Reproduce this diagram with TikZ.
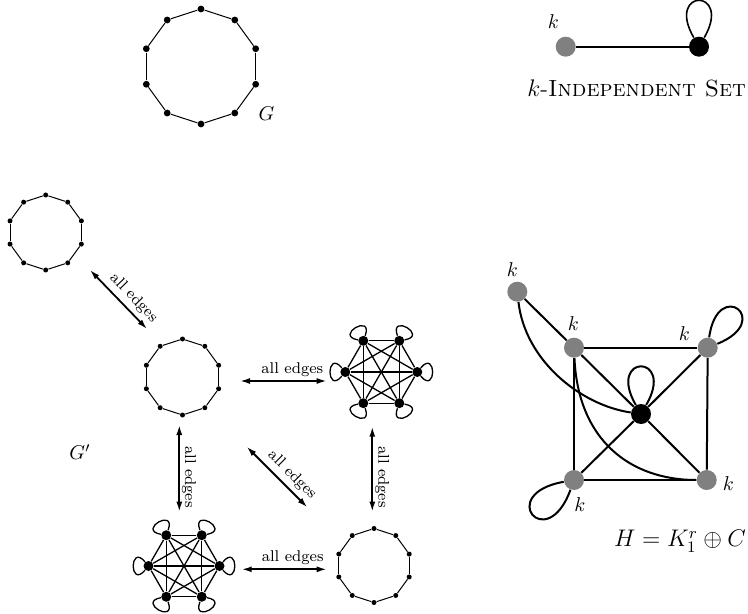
\documentclass[tikz,border=0pt]{standalone}
\usetikzlibrary{arrows.meta,calc}
\newcommand\drawcycle[5]{% name, cx, cy, radius, dot style
  \foreach \i in {0,...,9}{\node[#5] (#1\i) at ({#2+#4*cos(-90+36*\i)},{#3+#4*sin(-90+36*\i)}) {};}
  \foreach \i in {0,...,9}{\pgfmathtruncatemacro\nxt{mod(\i+1,10)}\draw[cedge] (#1\i) -- (#1\nxt);}
}
\newcommand\drawksix[4]{% name, cx, cy, radius
  \foreach \i in {0,...,5}{\node[dotK] (#1\i) at ({#2+#4*cos(60*\i)},{#3+#4*sin(60*\i)}) {};}
  \foreach \i in {0,...,4}{\pgfmathtruncatemacro\s{\i+1}\foreach \j in {\s,...,5}{\draw[kedge] (#1\i) -- (#1\j);}}
  \foreach \i in {0,...,5}{\draw[kedge] (#1\i) .. controls +({60*\i+50}:30) and +({60*\i-50}:30) .. (#1\i);}
}
\begin{document}
\begin{tikzpicture}[x=0.5pt,y=-0.5pt,
  dotG/.style={circle,fill=black,inner sep=0pt,minimum size=3.4pt},
  dotS/.style={circle,fill=black,inner sep=0pt,minimum size=2.5pt},
  dotK/.style={circle,fill=black,inner sep=0pt,minimum size=5pt},
  hgray/.style={circle,fill=gray,inner sep=0pt,minimum size=10pt},
  hblack/.style={circle,fill=black,inner sep=0pt,minimum size=10pt},
  cedge/.style={line width=0.5pt},
  kedge/.style={line width=0.65pt},
  hedge/.style={line width=1pt},
  biarrow/.style={line width=0.9pt,{Latex[length=5pt,width=3pt]}-{Latex[length=5pt,width=3pt]}},
  edgelabel/.style={font=\fontsize{7.8}{9}\selectfont,inner sep=0pt},
  klabel/.style={inner sep=0pt}]
\useasboundingbox (0,0) rectangle (748,614);

% top cycle G
\drawcycle{g}{201}{66.5}{57.5}{dotG}
\node[klabel] (glab) at (266.5,113.7) {$G$};

% k-independent set
\node[hgray] (iA) at (565.7,46.7) {};
\node[hblack] (iB) at (699,46.7) {};
\draw[hedge] (iA) -- (iB);
\draw[kedge,line width=0.8pt] (iB) .. controls +(-120:68) and +(-60:68) .. (iB);
\node[klabel] (ik) at (553.3,21.7) {$k$};
\node[klabel,font=\fontsize{11.7}{14}\selectfont] (ilab) at (636.7,88.3) {$k$-\textsc{Independent Set}};

% G' construction
\drawcycle{a}{45.7}{232.5}{37.5}{dotS}
\drawcycle{b}{182.5}{377}{38}{dotS}
\drawksix{c}{381.3}{372}{36}
\drawksix{d}{184}{566}{35.5}
\drawcycle{e}{374}{565.5}{37}{dotS}
\node[klabel] (gplab) at (80,452) {$G'$};

\coordinate (a1s) at (90,270);      \coordinate (a1e) at (147,329);
\coordinate (a2s) at (240,381);     \coordinate (a2e) at (326.7,381);
\coordinate (a3s) at (179.3,425);   \coordinate (a3e) at (179.3,511.7);
\coordinate (a4s) at (246.7,446.7); \coordinate (a4e) at (307.3,507.3);
\coordinate (a5s) at (372.3,426.7); \coordinate (a5e) at (372.3,511.7);
\coordinate (a6s) at (241.7,569.3); \coordinate (a6e) at (326.7,569.3);
\draw[biarrow] (a1s) -- (a1e);
\draw[biarrow] (a2s) -- (a2e);
\draw[biarrow] (a3s) -- (a3e);
\draw[biarrow] (a4s) -- (a4e);
\draw[biarrow] (a5s) -- (a5e);
\draw[biarrow] (a6s) -- (a6e);
\node[edgelabel,rotate=-46] (l1) at (133.5,298) {all edges};
\node[edgelabel] (l2) at (292.3,370) {all edges};
\node[edgelabel,rotate=-90] (l3) at (189,477) {all edges};
\node[edgelabel,rotate=-45] (l4) at (292,475) {all edges};
\node[edgelabel,rotate=-90] (l5) at (382.2,477) {all edges};
\node[edgelabel] (l6) at (292.7,557.7) {all edges};

% H graph
\node[hgray] (hF) at (517.3,291.7) {};
\node[hgray] (hTL) at (574,347.7) {};
\node[hgray] (hTR) at (707.7,347.7) {};
\node[hgray] (hBL) at (574,480) {};
\node[hgray] (hBR) at (706.7,480) {};
\node[hblack] (hC) at (641,414) {};
\draw[hedge] (hTL) -- (hTR);
\draw[hedge] (hTR) -- (hBR);
\draw[hedge] (hBR) -- (hBL);
\draw[hedge] (hBL) -- (hTL);
\draw[hedge] (hTL) -- (hC);
\draw[hedge] (hC) -- (hBR);
\draw[hedge] (hTR) -- (hC);
\draw[hedge] (hC) -- (hBL);
\draw[hedge] (hF) -- (hTL);
\draw[hedge] (hF) .. controls (525,360) and (580,405) .. (hC);
\draw[hedge] (hTL) .. controls (578,440) and (630,480) .. (hBR);
\draw[hedge] (hC) .. controls +(-120:70) and +(-60:70) .. (hC);
\draw[hedge] (hTR) .. controls +(-82:72) and +(-22:72) .. (hTR);
\draw[hedge] (hBL) .. controls +(110:80) and +(170:80) .. (hBL);
\node[klabel] (kF) at (512.3,270) {$k$};
\node[klabel] (kTL) at (573.3,323.3) {$k$};
\node[klabel] (kTR) at (684.3,333.3) {$k$};
\node[klabel] (kBR) at (728.3,483.3) {$k$};
\node[klabel] (kBL) at (580,505) {$k$};
\node[klabel,font=\large] (hlab) at (680,541.7) {$H = K_1^r \oplus C$};
\end{tikzpicture}
\end{document}
